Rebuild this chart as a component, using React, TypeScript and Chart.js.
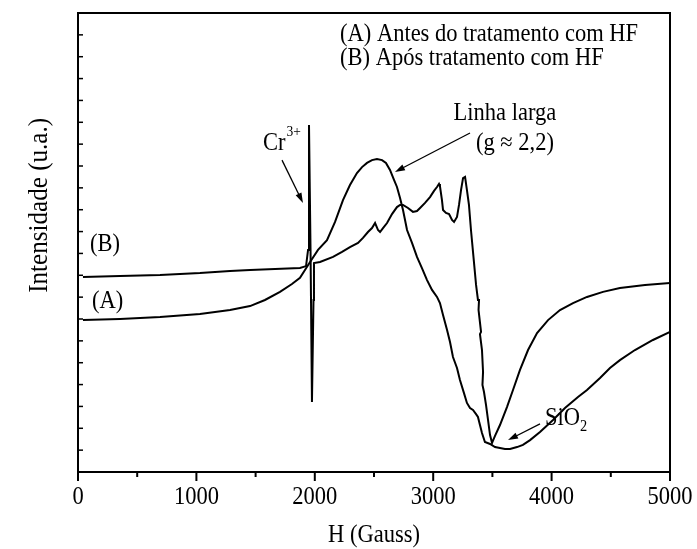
import React, { useEffect, useRef } from 'react';
import { Chart, registerables } from 'chart.js';

Chart.register(...registerables);

// ---- Data (H in Gauss, intensity in arbitrary units) ----
const FIELD_A = [42, 355, 693, 1030, 1284, 1453, 1579, 1706, 1807, 1875, 1917, 1960, 2027, 2103, 2171, 2238, 2297, 2356, 2399, 2441, 2483, 2525, 2568, 2601, 2635, 2669, 2694, 2720, 2745, 2779, 2821, 2863, 2905, 2948, 2990, 3032, 3057, 3083, 3117, 3142, 3167, 3201, 3226, 3260, 3285, 3311, 3336, 3362, 3378, 3395, 3412, 3437, 3480, 3522, 3564, 3606, 3649, 3708, 3758, 3818, 3902, 4012, 4113, 4223, 4299, 4409, 4493, 4577, 4704, 4856, 5000];
const INTENSITY_A = [6.95, 7.0, 7.09, 7.23, 7.41, 7.59, 7.87, 8.24, 8.6, 8.88, 9.24, 9.61, 10.16, 10.61, 11.44, 12.44, 13.13, 13.68, 13.95, 14.14, 14.27, 14.32, 14.27, 14.14, 13.82, 13.36, 13.04, 12.54, 11.99, 11.07, 10.48, 9.84, 9.33, 8.78, 8.33, 8.01, 7.73, 7.18, 6.5, 5.95, 5.26, 4.76, 4.21, 3.61, 3.16, 2.93, 2.84, 2.65, 2.52, 2.15, 1.78, 1.37, 1.28, 1.14, 1.1, 1.05, 1.05, 1.14, 1.24, 1.46, 1.83, 2.38, 2.93, 3.43, 3.75, 4.3, 4.76, 5.12, 5.58, 6.04, 6.41];

const FIELD_B = [42, 355, 693, 1030, 1284, 1453, 1664, 1875, 1926, 1943, 1951, 1964, 1976, 1989, 1993, 2044, 2154, 2230, 2297, 2365, 2407, 2449, 2483, 2509, 2534, 2551, 2576, 2610, 2652, 2694, 2720, 2745, 2787, 2829, 2863, 2889, 2931, 2973, 3007, 3032, 3049, 3057, 3074, 3083, 3108, 3134, 3159, 3176, 3201, 3218, 3235, 3252, 3269, 3285, 3302, 3319, 3345, 3362, 3378, 3387, 3383, 3404, 3395, 3412, 3421, 3416, 3429, 3446, 3463, 3480, 3497, 3522, 3564, 3623, 3674, 3733, 3801, 3877, 3970, 4071, 4181, 4299, 4434, 4577, 4789, 5000];
const INTENSITY_B = [8.92, 8.97, 9.01, 9.1, 9.2, 9.24, 9.29, 9.33, 9.42, 10.16, 15.88, 10.16, 3.2, 7.87, 9.56, 9.61, 9.84, 10.07, 10.29, 10.48, 10.71, 10.98, 11.16, 11.39, 11.07, 10.98, 11.16, 11.39, 11.8, 12.12, 12.22, 12.22, 12.08, 11.9, 11.94, 12.08, 12.31, 12.58, 12.86, 13.04, 13.18, 13.08, 12.44, 11.99, 11.85, 11.8, 11.53, 11.44, 11.67, 12.22, 12.9, 13.45, 13.5, 12.9, 12.22, 11.07, 9.56, 8.56, 7.87, 7.87, 7.41, 6.41, 6.31, 5.58, 4.58, 3.98, 3.66, 3.07, 2.38, 1.69, 1.33, 1.65, 2.15, 2.97, 3.75, 4.67, 5.58, 6.36, 6.95, 7.41, 7.73, 8.01, 8.24, 8.42, 8.56, 8.65];

const X_TICKS = [0, 1000, 2000, 3000, 4000, 5000];
const X_TICK_LABELS = ['0', '1000', '2000', '3000', '4000', '5000'];
const X_MINOR_TICKS = [500, 1500, 2500, 3500, 4500];
const Y_TICKS = [1, 2, 3, 4, 5, 6, 7, 8, 9, 10, 11, 12, 13, 14, 15, 16, 17, 18, 19, 20];
const X_MIN = 0;
const X_MAX = 5000;
const Y_MIN = 0;
const Y_MAX = 21;

const LEGEND_LINES = ['(A) Antes do tratamento com HF', '(B) Após tratamento com HF'];
const X_TITLE = 'H (Gauss)';
const Y_TITLE = 'Intensidade (u.a.)';
const CURVE_LABELS = ['(B)', '(A)'];
const CR_LABEL = ['Cr', '3+'];
const BROAD_LABEL = ['Linha larga', '(g \u2248 2,2)'];
const SIO2_LABEL = ['SiO', '2'];

const FONT = "'Liberation Serif', 'Times New Roman', serif";
const SQUEEZE = 0.9;

function txt(ctx: CanvasRenderingContext2D, s: string, x: number, y: number, size: number, align: CanvasTextAlign, sx = SQUEEZE): number {
  ctx.save();
  ctx.font = `${size}px ${FONT}`;
  ctx.textAlign = align;
  ctx.textBaseline = 'middle';
  ctx.translate(x, y);
  ctx.scale(sx, 1);
  ctx.fillText(s, 0, 0);
  const w = ctx.measureText(s).width * sx;
  ctx.restore();
  return w;
}

function drawArrow(ctx: CanvasRenderingContext2D, x1: number, y1: number, x2: number, y2: number) {
  const ang = Math.atan2(y2 - y1, x2 - x1);
  const len = 10;
  const hw = 3.2;
  ctx.beginPath();
  ctx.moveTo(x1, y1);
  ctx.lineTo(x2 - Math.cos(ang) * (len - 2), y2 - Math.sin(ang) * (len - 2));
  ctx.lineWidth = 1.3;
  ctx.stroke();
  ctx.beginPath();
  ctx.moveTo(x2, y2);
  ctx.lineTo(x2 - Math.cos(ang) * len - Math.sin(ang) * hw, y2 - Math.sin(ang) * len + Math.cos(ang) * hw);
  ctx.lineTo(x2 - Math.cos(ang) * len + Math.sin(ang) * hw, y2 - Math.sin(ang) * len - Math.cos(ang) * hw);
  ctx.closePath();
  ctx.fill();
}

const annotationPlugin = {
  id: 'epr-annotations',
  afterDraw(chart: any) {
    const { ctx, chartArea, scales } = chart;
    const xs = scales.x;
    const ys = scales.y;
    const px = (v: number) => xs.getPixelForValue(v);
    const py = (v: number) => ys.getPixelForValue(v);
    const { left, right, top, bottom } = chartArea;
    ctx.save();
    ctx.strokeStyle = '#000';
    ctx.fillStyle = '#000';

    // frame
    ctx.lineWidth = 2;
    ctx.strokeRect(left, top, right - left, bottom - top);

    // major x ticks (outward)
    for (const v of X_TICKS) {
      const x = px(v);
      ctx.beginPath();
      ctx.moveTo(x, bottom);
      ctx.lineTo(x, bottom + 9);
      ctx.stroke();
    }
    // minor x ticks (outward)
    for (const v of X_MINOR_TICKS) {
      const x = px(v);
      ctx.beginPath();
      ctx.moveTo(x, bottom);
      ctx.lineTo(x, bottom + 5);
      ctx.stroke();
    }
    // y ticks (inward, left side)
    ctx.lineWidth = 1.5;
    for (const v of Y_TICKS) {
      const y = py(v);
      ctx.beginPath();
      ctx.moveTo(left, y);
      ctx.lineTo(left + 5, y);
      ctx.stroke();
    }

    // x tick labels
    X_TICKS.forEach((v, i) => {
      txt(ctx, X_TICK_LABELS[i], px(v), bottom + 25, 25, 'center');
    });

    // axis titles
    txt(ctx, X_TITLE, (left + right) / 2, bottom + 63, 25, 'center');
    ctx.save();
    ctx.translate(40, py(12.2));
    ctx.rotate(-Math.PI / 2);
    txt(ctx, Y_TITLE, 0, 0, 27, 'center', 0.93);
    ctx.restore();

    // legend text
    txt(ctx, LEGEND_LINES[0], px(2213), py(20.0), 25, 'left');
    txt(ctx, LEGEND_LINES[1], px(2213), py(18.93), 25, 'left');

    // curve labels
    txt(ctx, CURVE_LABELS[0], px(101), py(10.39), 25, 'left');
    txt(ctx, CURVE_LABELS[1], px(118), py(7.82), 25, 'left');

    // Cr3+
    const crx = px(1562);
    const cry = py(15.05);
    const crw = txt(ctx, CR_LABEL[0], crx, cry, 25, 'left');
    txt(ctx, CR_LABEL[1], crx + crw + 1, cry - 11, 15, 'left');
    drawArrow(ctx, px(1723), py(14.27), px(1900), py(12.31));

    // Linha larga
    txt(ctx, BROAD_LABEL[0], px(3606), py(16.42), 25, 'center');
    txt(ctx, BROAD_LABEL[1], px(3690), py(15.05), 25, 'center');
    drawArrow(ctx, px(3311), py(15.51), px(2677), py(13.73));

    // SiO2
    const sx = px(3944);
    const sy = py(2.47);
    const sw = txt(ctx, SIO2_LABEL[0], sx, sy, 25, 'left');
    txt(ctx, SIO2_LABEL[1], sx + sw, sy + 9, 16, 'left');
    drawArrow(ctx, px(3902), py(2.2), px(3632), py(1.46));

    ctx.restore();
  },
};

export default function App() {
  const canvasRef = useRef<HTMLCanvasElement | null>(null);

  useEffect(() => {
    document.body.style.margin = '0';
    const canvas = canvasRef.current;
    if (!canvas) return;
    const dsA = FIELD_A.map((x, i) => ({ x, y: INTENSITY_A[i] }));
    const dsB = FIELD_B.map((x, i) => ({ x, y: INTENSITY_B[i] }));
    const chart = new Chart(canvas, {
      type: 'scatter',
      data: {
        datasets: [
          { label: 'A', data: dsA, showLine: true, borderColor: '#000', borderWidth: 2, pointRadius: 0, tension: 0 },
          { label: 'B', data: dsB, showLine: true, borderColor: '#000', borderWidth: 2, pointRadius: 0, tension: 0 },
        ],
      },
      options: {
        responsive: false,
        maintainAspectRatio: false,
        animation: false,
        devicePixelRatio: 1,
        layout: { padding: { left: 0, right: 27, top: 13, bottom: 0 } },
        plugins: { legend: { display: false }, tooltip: { enabled: false }, title: { display: false } },
        scales: {
          x: {
            type: 'linear',
            min: X_MIN,
            max: X_MAX,
            afterBuildTicks: (scale: any) => {
              scale.ticks = X_TICKS.map((v) => ({ value: v }));
            },
            afterFit: (scale: any) => {
              scale.height = 77;
            },
            ticks: { display: false },
            grid: { display: false },
            border: { display: false },
          },
          y: {
            type: 'linear',
            min: Y_MIN,
            max: Y_MAX,
            afterFit: (scale: any) => {
              scale.width = 78;
            },
            ticks: { display: false },
            grid: { display: false },
            border: { display: false },
          },
        },
      },
      plugins: [annotationPlugin],
    } as any);
    return () => chart.destroy();
  }, []);

  return <canvas ref={canvasRef} width={697} height={549} style={{ display: 'block' }} />;
}
